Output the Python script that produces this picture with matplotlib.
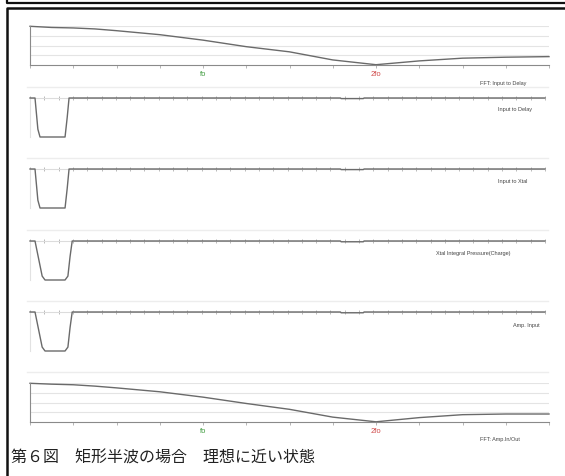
import matplotlib
matplotlib.use("Agg")
import matplotlib.pyplot as plt
from matplotlib.lines import Line2D
import numpy as np

W, H = 565, 477

# spectrum samples (frequency in units of fo, level in grid divisions)
fft_freq = [0, 0.125, 0.25, 0.375, 0.5, 0.75, 1.0, 1.25, 1.5, 1.75, 2.0, 2.25, 2.5, 2.75, 3.0]
fft_in_delay = [3.97, 3.85, 3.80, 3.70, 3.52, 3.11, 2.55, 1.88, 1.35, 0.52, 0.03, 0.42, 0.70, 0.80, 0.86]
fft_amp_inout = [3.97, 3.88, 3.82, 3.68, 3.50, 3.10, 2.55, 1.90, 1.30, 0.50, 0.02, 0.45, 0.75, 0.82, 0.82]

# time waveforms (time in tick divisions, amplitude normalised)
t_pulse_a = [0, 0.35, 0.55, 0.7, 2.45, 2.6, 2.73, 21.7, 21.75, 23.3, 23.35, 36]
v_input_delay = [0, 0, -0.8, -1, -1, -0.5, 0, 0, -0.015, -0.015, 0, 0]
v_input_xtal = [0, 0, -0.8, -1, -1, -0.5, 0, 0, -0.015, -0.015, 0, 0]
t_pulse_b = [0, 0.35, 0.6, 0.85, 1.05, 2.45, 2.65, 2.8, 2.95, 21.7, 21.75, 23.3, 23.35, 36]
v_xtal_charge = [0, 0, -0.45, -0.9, -1, -1, -0.9, -0.4, 0, 0, -0.02, -0.02, 0, 0]
v_amp_input = [0, 0, -0.45, -0.9, -1, -1, -0.9, -0.4, 0, 0, -0.02, -0.02, 0, 0]

fig = plt.figure(figsize=(W / 100, H / 100), dpi=100)
fig.patch.set_facecolor("white")


def px_axes(x0, y0, x1, y1):
    return fig.add_axes([x0 / W, 1 - y1 / H, (x1 - x0) / W, (y1 - y0) / H])


def px_line(xs, ys, **kw):
    fig.add_artist(Line2D([x / W for x in xs], [1 - y / H for y in ys],
                          transform=fig.transFigure, **kw))


LABEL = dict(family="Liberation Sans", fontsize=4, color="#444444")
CURVE = "#6a6a6a"


def fft_panel(y_top, y_base, values, label, label_x, label_y):
    ax = px_axes(30, y_top, 549, y_base)
    ax.plot(fft_freq, values, color=CURVE, lw=1.0, clip_on=False)
    ax.set_xlim(0, 3)
    ax.set_ylim(0, 4)
    ax.set_yticks([1, 2, 3, 4])
    ax.set_xticks(np.arange(0, 3.01, 0.25))
    ax.grid(axis="y", color="#e4e4e4", lw=0.8)
    ax.tick_params(axis="x", direction="out", length=2, width=0.6, color="#aaaaaa",
                   labelbottom=False)
    ax.tick_params(axis="y", length=0, labelleft=False)
    for s in ("top", "right"):
        ax.spines[s].set_visible(False)
    for s in ("left", "bottom"):
        ax.spines[s].set_color("#8a8a8a")
        ax.spines[s].set_linewidth(0.8)
    ax.set_facecolor("none")
    ax.text(1, -0.5, "fo", color="#3c9a3c", fontsize=5.5, family="Liberation Sans",
            ha="center", va="top")
    ax.text(2, -0.5, "2fo", color="#d04a4a", fontsize=5.5, family="Liberation Sans",
            ha="center", va="top")
    fig.text(label_x / W, 1 - label_y / H, label, ha="left", va="center", **LABEL)
    return ax


def time_panel(y_top, y_bot, t, v, label, label_x, label_y):
    ax = px_axes(30, y_top, 545, y_bot)
    ax.plot(t, v, color=CURVE, lw=1.0, clip_on=False, zorder=3)
    ax.set_xlim(0, 36)
    ax.set_ylim(-1, 0)
    ax.set_xticks(np.arange(0, 37, 1))
    ax.set_yticks([])
    ax.spines["bottom"].set_position(("data", 0))
    ax.spines["bottom"].set_color("#dcdcdc")
    ax.spines["bottom"].set_linewidth(0.8)
    ax.spines["left"].set_color("#e2e2e2")
    ax.spines["left"].set_linewidth(0.8)
    for s in ("top", "right"):
        ax.spines[s].set_visible(False)
    ax.tick_params(axis="x", direction="inout", length=3.5, width=0.6, color="#adadad",
                   labelbottom=False)
    ax.set_facecolor("none")
    fig.text(label_x / W, 1 - label_y / H, label, ha="left", va="center", **LABEL)
    return ax


fft_panel(27, 66, fft_in_delay, "FFT: Input to Delay", 480, 83)
time_panel(99, 138, t_pulse_a, v_input_delay, "Input to Delay", 498, 110)
time_panel(170, 209, t_pulse_a, v_input_xtal, "Input to Xtal", 498, 181)
time_panel(242, 281, t_pulse_b, v_xtal_charge, "Xtal Integral Pressure(Charge)", 436, 254)
time_panel(313, 352, t_pulse_b, v_amp_input, "Amp. Input", 513, 325)
fft_panel(384, 423, fft_amp_inout, "FFT: Amp.In/Out", 480, 440)

# faint separators between the traces
for y in (88, 159, 231, 302, 373):
    px_line([27, 548], [y, y], color="#ededed", lw=1.0)

# page frame
px_line([6.5, 6.5, 565], [0, 3.5, 3.5], color="#111111", lw=1.6)
px_line([565, 7, 7], [9, 9, 477], color="#111111", lw=1.8)

fig.text(11 / W, 1 - 458 / H, "第６図　矩形半波の場合　理想に近い状態",
         family=["Noto Sans CJK JP", "DejaVu Sans"], fontsize=11.5, color="#222222",
         ha="left", va="center")

fig.savefig("out.png", dpi=100)
